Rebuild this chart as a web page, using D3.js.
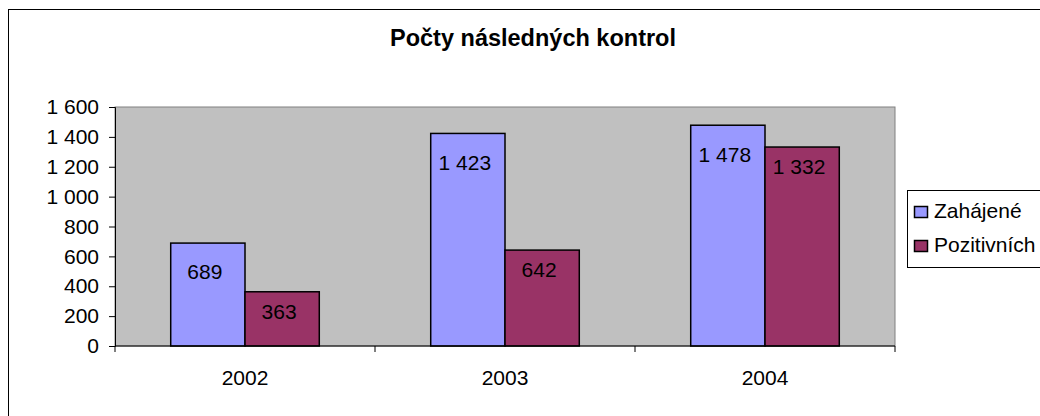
<!DOCTYPE html>
<html>
<head>
<meta charset="utf-8">
<script src="https://cdn.jsdelivr.net/npm/d3@7"></script>
<style>
  html, body { margin: 0; padding: 0; background: #fff; }
  svg { display: block; font-family: "Liberation Sans", Arial, sans-serif; }
</style>
</head>
<body>
<div id="chart"></div>
<script>
// data
const years = ["2002", "2003", "2004"];
const seriesNames = ["Zahájené", "Pozitivních"];
const zahajene = [689, 1423, 1478];
const pozitivni = [363, 642, 1332];
const yTicks = [0, 200, 400, 600, 800, 1000, 1200, 1400, 1600];

const colors = ["#9999FF", "#993366"];
const labelDy = [29, 20]; // label offset below bar top, per series

const width = 1040;
const height = 416;
const plot = { left: 115, right: 895, top: 107, bottom: 346 };
const fs = 21;

const fmt = d => d3.format(",")(d).replace(/,/g, " ");

const svg = d3.select("#chart")
  .append("svg")
  .attr("width", width)
  .attr("height", height);

// outer chart border (runs off the picture on right and bottom)
svg.append("rect")
  .attr("x", 8.5).attr("y", 9.5)
  .attr("width", 1060).attr("height", 440)
  .attr("fill", "#fff")
  .attr("stroke", "#000");

// title
svg.append("text")
  .attr("x", 533).attr("y", 46)
  .attr("text-anchor", "middle")
  .attr("font-size", 23.5)
  .attr("font-weight", "bold")
  .text("Počty následných kontrol");

const x0 = d3.scaleBand()
  .domain(years)
  .range([plot.left, plot.right])
  .padding(0);

const x1 = d3.scaleBand()
  .domain(seriesNames)
  .range([0, x0.bandwidth()])
  .paddingInner(0)
  .paddingOuter(0.75);

const y = d3.scaleLinear()
  .domain([0, 1600])
  .range([plot.bottom, plot.top]);

// plot area
svg.append("rect")
  .attr("x", plot.left).attr("y", plot.top)
  .attr("width", plot.right - plot.left)
  .attr("height", plot.bottom - plot.top)
  .attr("fill", "#C0C0C0")
  .attr("stroke", "#808080");

// bars
const rows = years.map((yr, i) => ({ year: yr, values: [zahajene[i], pozitivni[i]] }));

const groups = svg.selectAll("g.grp")
  .data(rows)
  .join("g")
  .attr("class", "grp")
  .attr("transform", d => `translate(${x0(d.year)},0)`);

groups.selectAll("rect")
  .data(d => d.values.map((v, k) => ({ key: seriesNames[k], k, v })))
  .join("rect")
  .attr("x", d => x1(d.key))
  .attr("y", d => y(d.v))
  .attr("width", x1.bandwidth())
  .attr("height", d => y(0) - y(d.v))
  .attr("fill", d => colors[d.k])
  .attr("stroke", "#000")
  .attr("stroke-width", 1.5);

groups.selectAll("text")
  .data(d => d.values.map((v, k) => ({ key: seriesNames[k], k, v })))
  .join("text")
  .attr("x", d => x1(d.key) + x1.bandwidth() / 2 - 3)
  .attr("y", d => y(d.v) + labelDy[d.k])
  .attr("dy", "0.35em")
  .attr("text-anchor", "middle")
  .attr("font-size", fs)
  .attr("fill", "#000")
  .text(d => fmt(d.v));

// value axis
svg.append("g")
  .attr("transform", `translate(${plot.left},0)`)
  .call(d3.axisLeft(y).tickValues(yTicks).tickFormat(fmt).tickSizeOuter(0).tickSize(6).tickPadding(10))
  .call(g => g.select(".domain").attr("stroke", "#000"))
  .call(g => g.selectAll(".tick text").attr("font-size", fs).attr("font-family", "Liberation Sans, Arial, sans-serif").attr("fill", "#000"));

// category axis
const xAxis = svg.append("g")
  .attr("transform", `translate(0,${plot.bottom})`);

xAxis.append("line")
  .attr("x1", plot.left).attr("x2", plot.right)
  .attr("stroke", "#000");

const edges = years.map(d => x0(d)).concat([x0(years[years.length - 1]) + x0.bandwidth()]);
xAxis.selectAll("line.tick")
  .data(edges)
  .join("line")
  .attr("class", "tick")
  .attr("x1", d => d).attr("x2", d => d)
  .attr("y1", 0).attr("y2", 6)
  .attr("stroke", "#000");

xAxis.selectAll("text")
  .data(years)
  .join("text")
  .attr("x", d => x0(d) + x0.bandwidth() / 2)
  .attr("y", 39)
  .attr("text-anchor", "middle")
  .attr("font-size", fs)
  .text(d => d);

// legend
const legend = svg.append("g");
legend.append("rect")
  .attr("x", 907.5).attr("y", 190.5)
  .attr("width", 160).attr("height", 77)
  .attr("fill", "#fff")
  .attr("stroke", "#000");

const items = legend.selectAll("g.item")
  .data(seriesNames)
  .join("g")
  .attr("class", "item")
  .attr("transform", (d, i) => `translate(914,${212 + i * 34})`);

items.append("rect")
  .attr("x", 0.5).attr("y", -5.5)
  .attr("width", 13).attr("height", 11)
  .attr("fill", (d, i) => colors[i])
  .attr("stroke", "#000")
  .attr("stroke-width", 1.5);

items.append("text")
  .attr("x", 20)
  .attr("dy", "0.3em")
  .attr("font-size", fs)
  .text(d => d);
</script>
</body>
</html>
